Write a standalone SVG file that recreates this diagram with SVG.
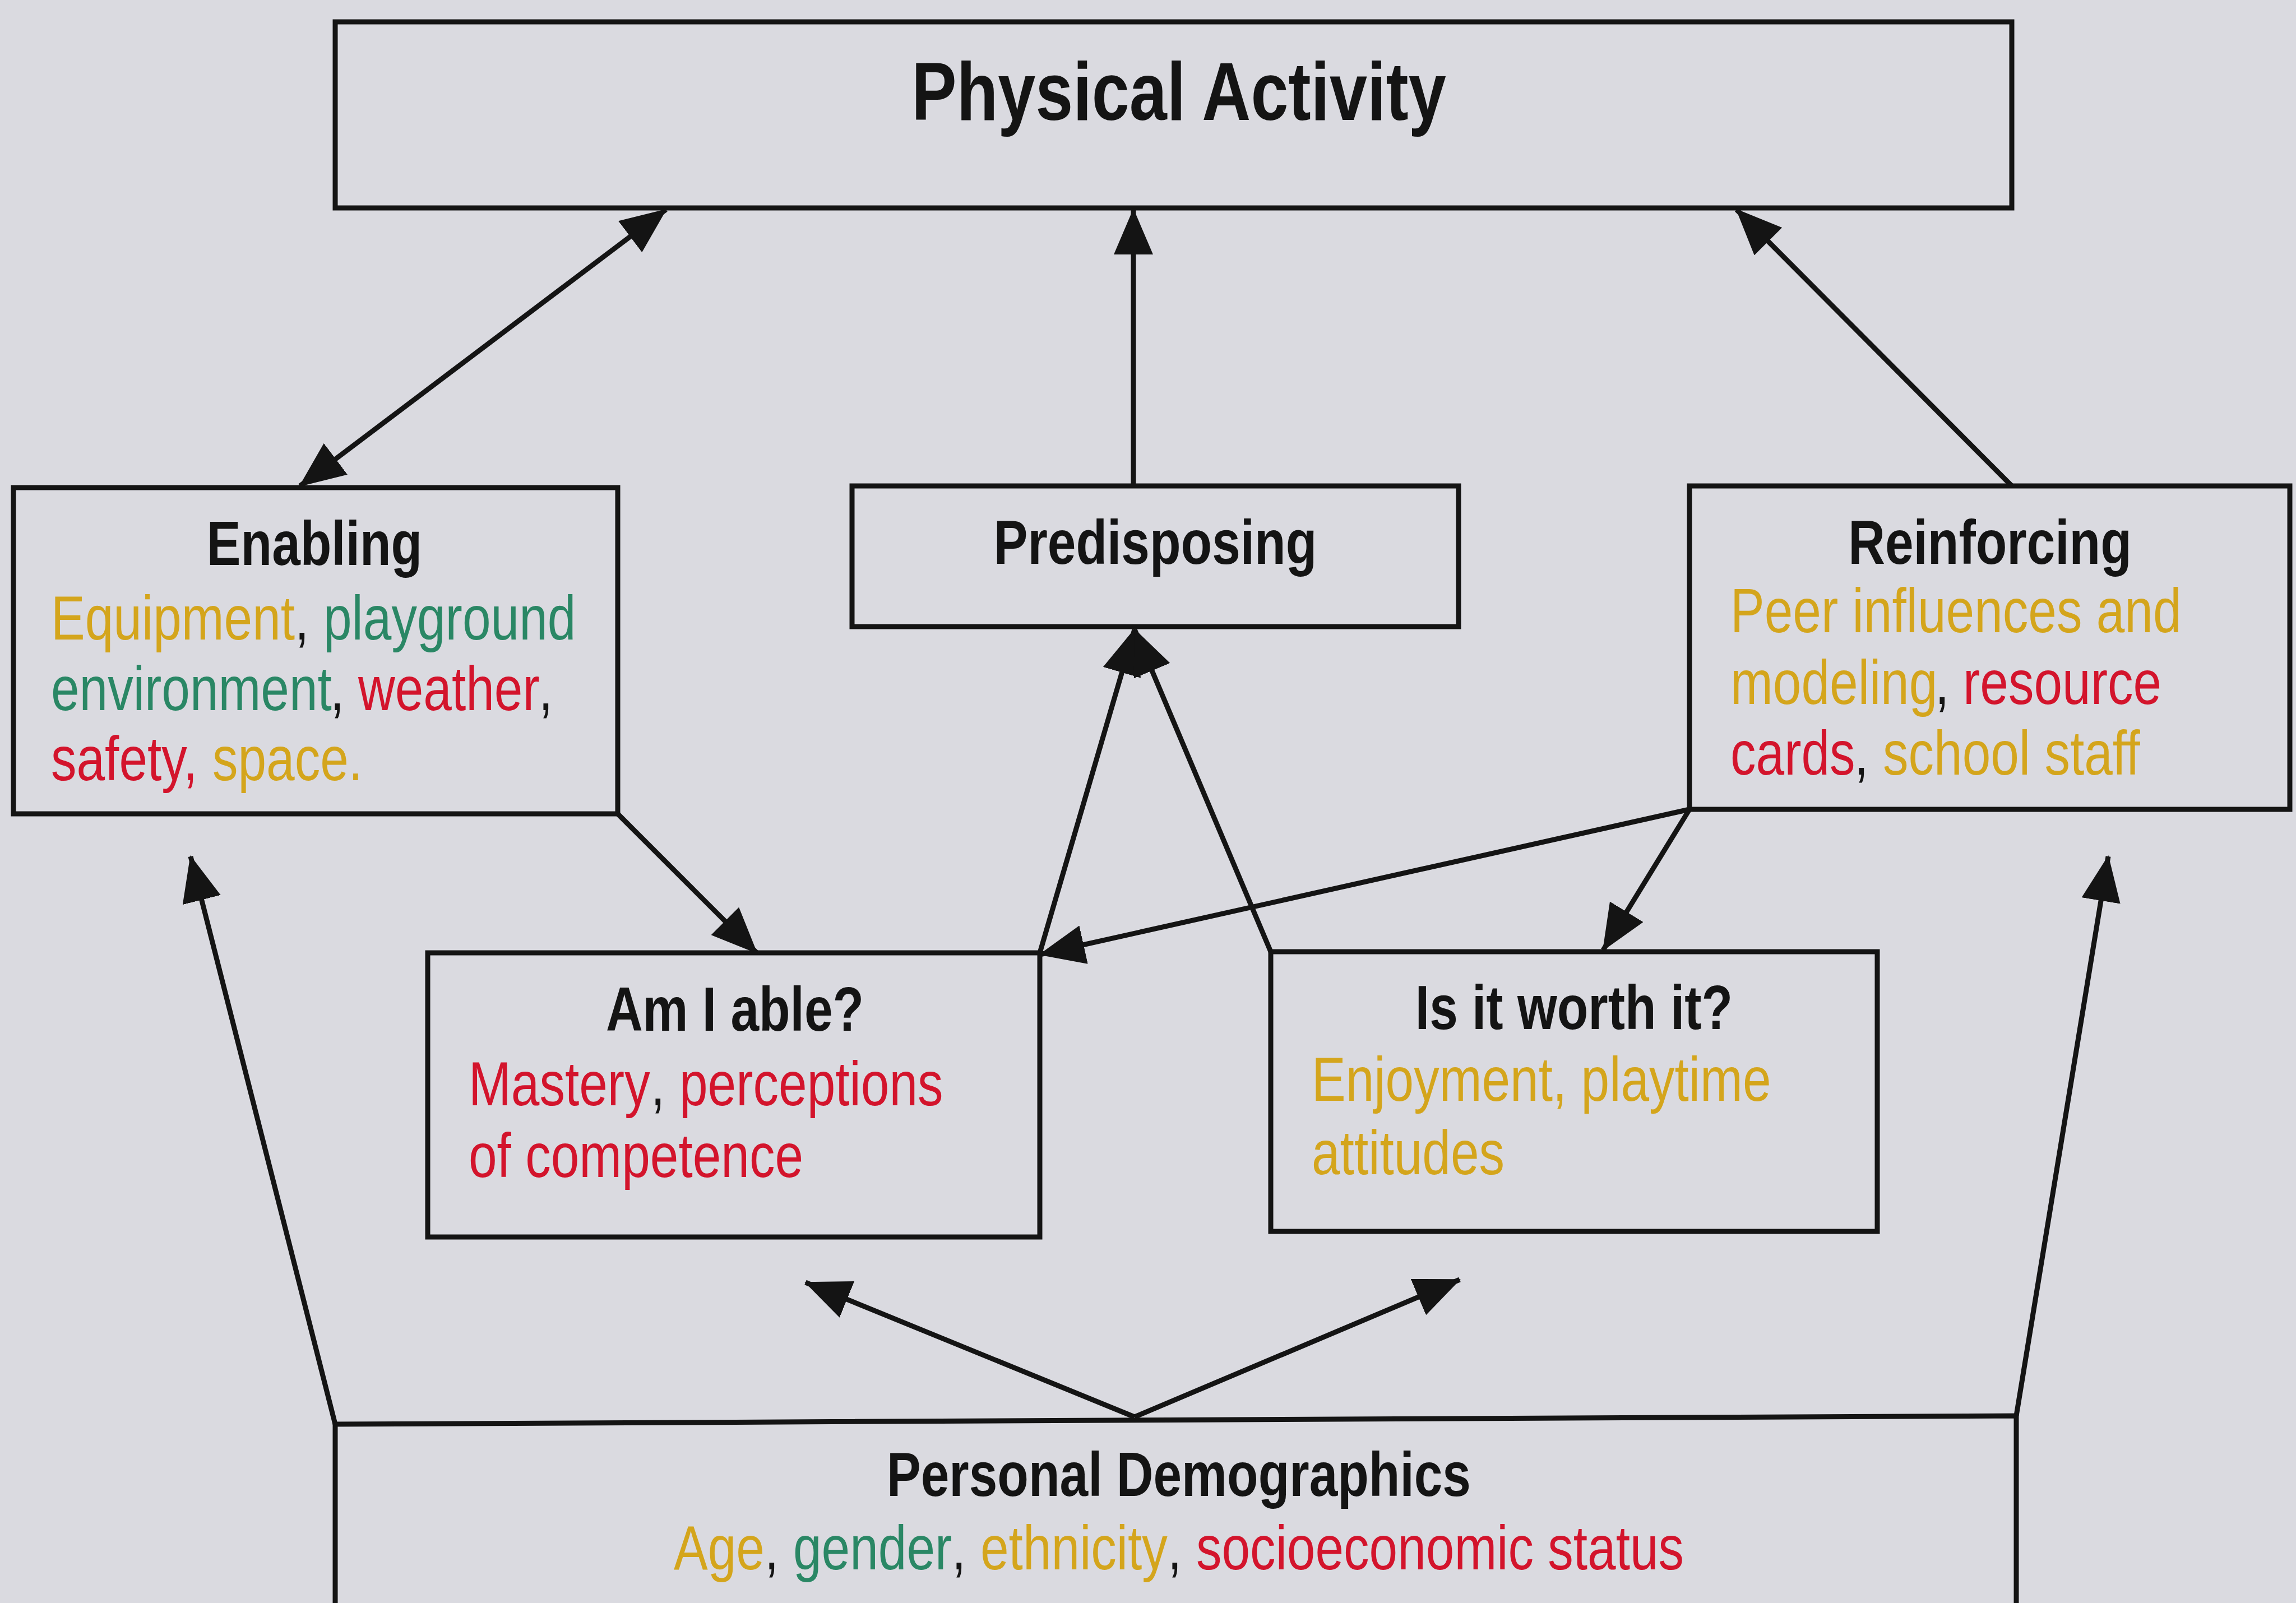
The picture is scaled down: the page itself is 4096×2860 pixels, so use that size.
<svg xmlns="http://www.w3.org/2000/svg" width="4096" height="2860" viewBox="0 0 4096 2860">
  <style>
    .box { fill: none; stroke: #141414; stroke-width: 9; }
    .conn { fill: none; stroke: #141414; stroke-width: 9; }
    text { font-family: "Liberation Sans", "Arial", sans-serif; }
    .title { font-size: 147px; font-weight: bold; fill: #141414; text-anchor: middle; }
    .head { font-size: 111px; font-weight: bold; fill: #141414; text-anchor: middle; }
    .body { font-size: 111px; fill: #141414; }
    .y { fill: #d4a51c; }
    .g { fill: #2a8765; }
    .r { fill: #d3142c; }
    .k { fill: #141414; }
  </style>
  <defs>
    <marker id="ah" markerUnits="userSpaceOnUse" markerWidth="82" markerHeight="70" refX="80" refY="35" orient="auto-start-reverse" viewBox="0 0 82 70">
      <path d="M0,0 L82,35 L0,70 Z" fill="#141414"/>
    </marker>
  </defs>
  <rect x="0" y="0" width="4096" height="2860" fill="#dadae0"/>

  <g id="connectors">
    <path class="conn" d="M535,867 L1188,374" marker-start="url(#ah)" marker-end="url(#ah)"/>
    <path class="conn" d="M2022,867 L2022,374" marker-end="url(#ah)"/>
    <path class="conn" d="M3589,867 L3098,374" marker-end="url(#ah)"/>
    <path class="conn" d="M1102,1452 L1350,1700" marker-end="url(#ah)"/>
    <path class="conn" d="M1855,1700 L2024,1123" marker-end="url(#ah)"/>
    <path class="conn" d="M2267,1698 L2024,1123" marker-end="url(#ah)"/>
    <path class="conn" d="M3014,1444 L1855,1703" marker-end="url(#ah)"/>
    <path class="conn" d="M3014,1444 L2860,1695" marker-end="url(#ah)"/>
    <path class="conn" d="M598,2541 L340,1528" marker-end="url(#ah)"/>
    <path class="conn" d="M3597,2526 L3761,1528" marker-end="url(#ah)"/>
    <path class="conn" d="M2024,2528 L1437,2288" marker-end="url(#ah)"/>
    <path class="conn" d="M2024,2528 L2604,2283" marker-end="url(#ah)"/>
  </g>

  <g id="physical-activity">
    <rect class="box" x="598" y="39" width="2991" height="332"/>
    <text class="title" x="2103" y="214" transform="matrix(0.82 0 0 1 378.54 0)">Physical Activity</text>
  </g>

  <g id="enabling">
    <rect class="box" x="24" y="870" width="1078" height="582"/>
    <text class="head" x="561" y="1008" transform="matrix(0.82 0 0 1 100.98 0)">Enabling</text>
    <text class="body y" x="91" y="1141" transform="matrix(0.82 0 0 1 16.38 0)">Equipment</text>
    <text class="body k" x="526" y="1141" transform="matrix(0.82 0 0 1 94.68 0)">,</text>
    <text class="body g" x="577" y="1141" transform="matrix(0.82 0 0 1 103.86 0)">playground</text>
    <text class="body g" x="91" y="1267" transform="matrix(0.82 0 0 1 16.38 0)">environment</text>
    <text class="body k" x="589" y="1267" transform="matrix(0.82 0 0 1 106.02 0)">,</text>
    <text class="body r" x="639" y="1267" transform="matrix(0.82 0 0 1 115.02 0)">weather</text>
    <text class="body k" x="961" y="1267" transform="matrix(0.82 0 0 1 172.98 0)">,</text>
    <text class="body r" x="91" y="1392" transform="matrix(0.82 0 0 1 16.38 0)">safety,</text>
    <text class="body y" x="379" y="1392" transform="matrix(0.82 0 0 1 68.22 0)">space.</text>
  </g>

  <g id="predisposing">
    <rect class="box" x="1520" y="867" width="1082" height="251"/>
    <text class="head" x="2061" y="1006" transform="matrix(0.82 0 0 1 370.98 0)">Predisposing</text>
  </g>

  <g id="reinforcing">
    <rect class="box" x="3014" y="867" width="1071" height="577"/>
    <text class="head" x="3550" y="1006" transform="matrix(0.82 0 0 1 639 0)">Reinforcing</text>
    <text class="body y" x="3087" y="1128" transform="matrix(0.82 0 0 1 555.66 0)">Peer influences and</text>
    <text class="body y" x="3087" y="1256" transform="matrix(0.82 0 0 1 555.66 0)">modeling</text>
    <text class="body k" x="3452" y="1256" transform="matrix(0.82 0 0 1 621.36 0)">,</text>
    <text class="body r" x="3502" y="1256" transform="matrix(0.82 0 0 1 630.36 0)">resource</text>
    <text class="body r" x="3087" y="1382" transform="matrix(0.82 0 0 1 555.66 0)">cards</text>
    <text class="body k" x="3308" y="1382" transform="matrix(0.82 0 0 1 595.44 0)">,</text>
    <text class="body y" x="3359" y="1382" transform="matrix(0.82 0 0 1 604.62 0)">school staff</text>
  </g>

  <g id="am-i-able">
    <rect class="box" x="763" y="1700" width="1092" height="507"/>
    <text class="head" x="1311" y="1839" transform="matrix(0.82 0 0 1 235.98 0)">Am I able?</text>
    <text class="body r" x="836" y="1972" transform="matrix(0.82 0 0 1 150.48 0)">Mastery</text>
    <text class="body k" x="1161" y="1972" transform="matrix(0.82 0 0 1 208.98 0)">,</text>
    <text class="body r" x="1212" y="1972" transform="matrix(0.82 0 0 1 218.16 0)">perceptions</text>
    <text class="body r" x="836" y="2100" transform="matrix(0.82 0 0 1 150.48 0)">of competence</text>
  </g>

  <g id="is-it-worth-it">
    <rect class="box" x="2267" y="1698" width="1082" height="499"/>
    <text class="head" x="2808" y="1836" transform="matrix(0.82 0 0 1 505.44 0)">Is it worth it?</text>
    <text class="body y" x="2340" y="1964" transform="matrix(0.82 0 0 1 421.2 0)">Enjoyment, playtime</text>
    <text class="body y" x="2340" y="2095" transform="matrix(0.82 0 0 1 421.2 0)">attitudes</text>
  </g>

  <g id="personal-demographics">
    <path class="box" d="M598,2890 L598,2541 L3597,2526 L3597,2890"/>
    <text class="head" x="2103" y="2669" transform="matrix(0.82 0 0 1 378.54 0)">Personal Demographics</text>
    <text class="body y" x="1202" y="2800" transform="matrix(0.82 0 0 1 216.36 0)">Age</text>
    <text class="body k" x="1364" y="2800" transform="matrix(0.82 0 0 1 245.52 0)">,</text>
    <text class="body g" x="1415" y="2800" transform="matrix(0.82 0 0 1 254.7 0)">gender</text>
    <text class="body k" x="1698" y="2800" transform="matrix(0.82 0 0 1 305.64 0)">,</text>
    <text class="body y" x="1749" y="2800" transform="matrix(0.82 0 0 1 314.82 0)">ethnicity</text>
    <text class="body k" x="2083" y="2800" transform="matrix(0.82 0 0 1 374.94 0)">,</text>
    <text class="body r" x="2134" y="2800" transform="matrix(0.82 0 0 1 384.12 0)">socioeconomic status</text>
  </g>
</svg>
